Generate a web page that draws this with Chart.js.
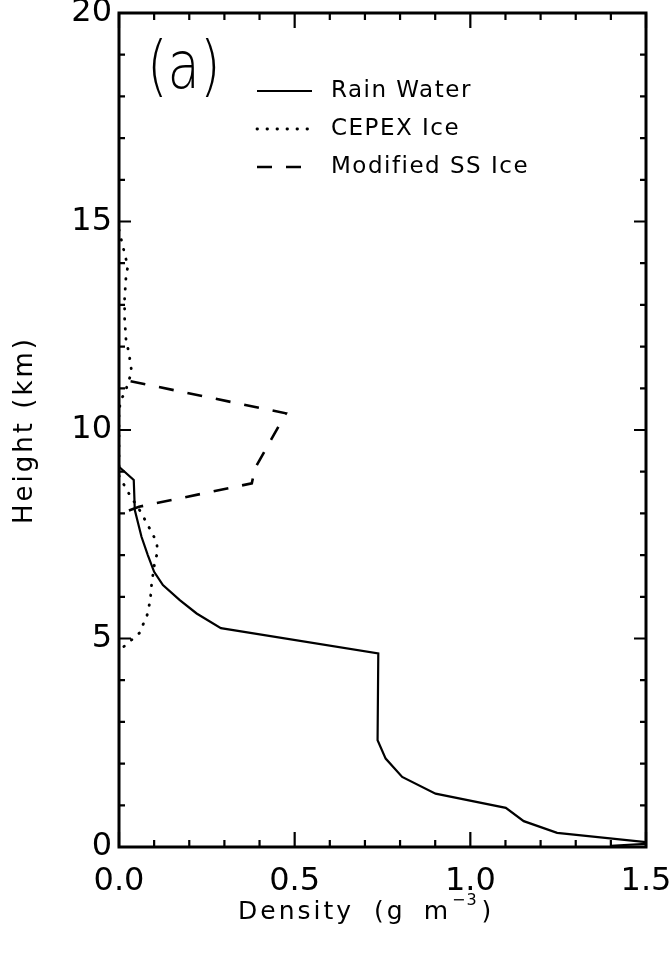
<!DOCTYPE html>
<html>
<head>
<meta charset="utf-8">
<script src="https://cdn.jsdelivr.net/npm/chart.js@4.4.1/dist/chart.umd.min.js"></script>
<style>
html,body{margin:0;padding:0;background:#fff}
#wrap{width:671px;height:956px}
</style>
</head>
<body>
<div id="wrap"><canvas id="profile-chart"></canvas></div>
<script>
// values, top of each profile first
const rainHeight  = [9.12,8.80,8.08,7.44,7.00,6.60,6.28,5.92,5.60,5.25,4.64,2.56,2.12,1.68,1.28,0.94,0.62,0.34,0.09,0.03];
const rainDensity = [0.0,0.042,0.045,0.064,0.082,0.100,0.125,0.173,0.221,0.29,0.738,0.736,0.759,0.806,0.901,1.101,1.152,1.247,1.53,1.40];

const cepexHeight  = [14.8,14.44,13.92,13.68,13.16,12.68,12.16,11.86,11.40,10.92,10.70,10.40,8.90,8.48,8.06,7.80,7.56,7.32,7.08,6.84,6.32,5.92,5.56,5.13,4.80,4.70];
const cepexDensity = [0.0,0.01,0.025,0.02,0.016,0.016,0.02,0.028,0.036,0.018,0.004,0.0,0.0,0.028,0.060,0.077,0.092,0.107,0.110,0.102,0.093,0.089,0.080,0.058,0.013,0.0];

const ssHeight  = [11.17,10.40,9.08,8.72,8.16,7.98];
const ssDensity = [0.033,0.475,0.387,0.378,0.057,0.0];

const seriesLabels = ['Rain Water','CEPEX Ice','Modified SS Ice'];
const xTickValues = [0,0.5,1.0,1.5];
const yTickValues = [0,5,10,15,20];
const panelLabel = '(a)';
const xTitleWords = ['Density','(g','m'];
const xTitleExp = '\u22123';
const yTitle = 'Height (km)';

function pts(d,h){ return d.map((v,i)=>({x:v,y:h[i]})); }

// inward tick marks on all four sides + heavy frame
const frameTicks = {
  id:'frameTicks',
  afterDraw(chart){
    const {ctx, chartArea:a, scales:{x,y}} = chart;
    ctx.save();
    ctx.strokeStyle='#000';
    ctx.lineWidth=2.2;
    ctx.beginPath();
    const xv = x.ticks.map(t=>t.value);
    for(let i=0;i<xv.length;i++){
      for(let k=0;k<5;k++){
        if(k>0 && i==xv.length-1) break;
        const v = k==0 ? xv[i] : xv[i]+(xv[i+1]-xv[i])*k/5;
        const px = x.getPixelForValue(v);
        const len = k==0 ? 15 : 7;
        ctx.moveTo(px,a.bottom); ctx.lineTo(px,a.bottom-len);
        ctx.moveTo(px,a.top); ctx.lineTo(px,a.top+len);
      }
    }
    const yv = y.ticks.map(t=>t.value);
    for(let i=0;i<yv.length;i++){
      for(let k=0;k<5;k++){
        if(k>0 && i==yv.length-1) break;
        const v = k==0 ? yv[i] : yv[i]+(yv[i+1]-yv[i])*k/5;
        const py = y.getPixelForValue(v);
        const len = k==0 ? 12 : 6;
        ctx.moveTo(a.left,py); ctx.lineTo(a.left+len,py);
        ctx.moveTo(a.right,py); ctx.lineTo(a.right-len,py);
      }
    }
    ctx.stroke();
    ctx.lineWidth=3;
    ctx.strokeRect(a.left,a.top,a.right-a.left,a.bottom-a.top);
    ctx.restore();
  }
};

// axis titles, panel letter and the in-plot legend
const annotations = {
  id:'annotations',
  afterDraw(chart){
    const {ctx} = chart;
    ctx.save();
    ctx.fillStyle='#000';
    ctx.textBaseline='alphabetic';
    ctx.textAlign='left';

    // x title, words spaced out like the plotted original, with superscript
    ctx.font='25px "DejaVu Sans"';
    ctx.letterSpacing='3px';
    let tx = 238;
    const gaps=[20,18,0];
    xTitleWords.forEach((w,i)=>{
      ctx.fillText(w, tx, 919);
      tx += ctx.measureText(w).width + gaps[i];
    });
    ctx.font='16px "DejaVu Sans"';
    ctx.letterSpacing='1px';
    ctx.fillText(xTitleExp, tx+1, 905);
    tx += ctx.measureText(xTitleExp).width + 5;
    ctx.font='25px "DejaVu Sans"';
    ctx.fillText(')', tx, 919);

    // y title
    ctx.save();
    ctx.translate(25,430);
    ctx.rotate(-Math.PI/2);
    ctx.font='26px "DejaVu Sans"';
    ctx.letterSpacing='3px';
    ctx.textAlign='center';
    ctx.textBaseline='middle';
    ctx.fillText(yTitle,0,0);
    ctx.restore();

    // panel label
    ctx.save();
    ctx.translate(147,88);
    ctx.scale(0.8,1);
    ctx.font='200 66px "DejaVu Sans"';
    ctx.letterSpacing='0px';
    ctx.fillText(panelLabel,0,0);
    ctx.restore();

    // legend
    const rows=[91,129,167];
    chart.data.datasets.forEach((ds,i)=>{
      const yy=rows[i];
      ctx.save();
      ctx.strokeStyle=ds.borderColor;
      ctx.lineWidth=ds.borderWidth;
      ctx.lineCap=ds.borderCapStyle||'butt';
      ctx.setLineDash(ds.borderDash||[]);
      ctx.beginPath();
      ctx.moveTo(257,yy); ctx.lineTo(312,yy);
      ctx.stroke();
      ctx.restore();
      ctx.font='23px "DejaVu Sans"';
      ctx.letterSpacing='1.5px';
      ctx.textBaseline='middle';
      ctx.fillText(ds.label,331,yy);
    });
    ctx.restore();
  }
};

const ctx = document.getElementById('profile-chart');
new Chart(ctx,{
  type:'scatter',
  data:{
    datasets:[
      {label:seriesLabels[0], data:pts(rainDensity,rainHeight), showLine:true,
       borderColor:'#000', borderWidth:2.2, pointRadius:0, tension:0},
      {label:seriesLabels[1], data:pts(cepexDensity,cepexHeight), showLine:true,
       borderColor:'#000', borderWidth:2.8, borderDash:[0.5,9.5], borderCapStyle:'round', pointRadius:0, tension:0},
      {label:seriesLabels[2], data:pts(ssDensity,ssHeight), showLine:true,
       borderColor:'#000', borderWidth:2.6, borderDash:[15,14], pointRadius:0, tension:0}
    ]
  },
  options:{
    responsive:true,
    maintainAspectRatio:false,
    animation:false,
    layout:{padding:{left:0,right:25,top:13,bottom:0}},
    plugins:{legend:{display:false},tooltip:{enabled:false}},
    scales:{
      x:{
        type:'linear', position:'bottom', min:0, max:1.5,
        afterBuildTicks:s=>{ s.ticks = xTickValues.map(v=>({value:v})); },
        afterFit:s=>{ s.height=109; s.paddingLeft=0; s.paddingRight=0; },
        grid:{display:false, drawTicks:false},
        border:{display:false},
        ticks:{color:'#000', padding:15, maxRotation:0, font:{family:'DejaVu Sans', size:32},
          callback:v=>Number(v).toFixed(1)}
      },
      y:{
        type:'linear', position:'left', min:0, max:20,
        afterBuildTicks:s=>{ s.ticks = yTickValues.map(v=>({value:v})); },
        afterFit:s=>{ s.width=119; s.paddingTop=0; s.paddingBottom=0; },
        grid:{display:false, drawTicks:false},
        border:{display:false},
        ticks:{color:'#000', padding:7, font:{family:'DejaVu Sans', size:32},
          callback:v=>String(v)}
      }
    }
  },
  plugins:[frameTicks, annotations]
});
</script>
</body>
</html>
